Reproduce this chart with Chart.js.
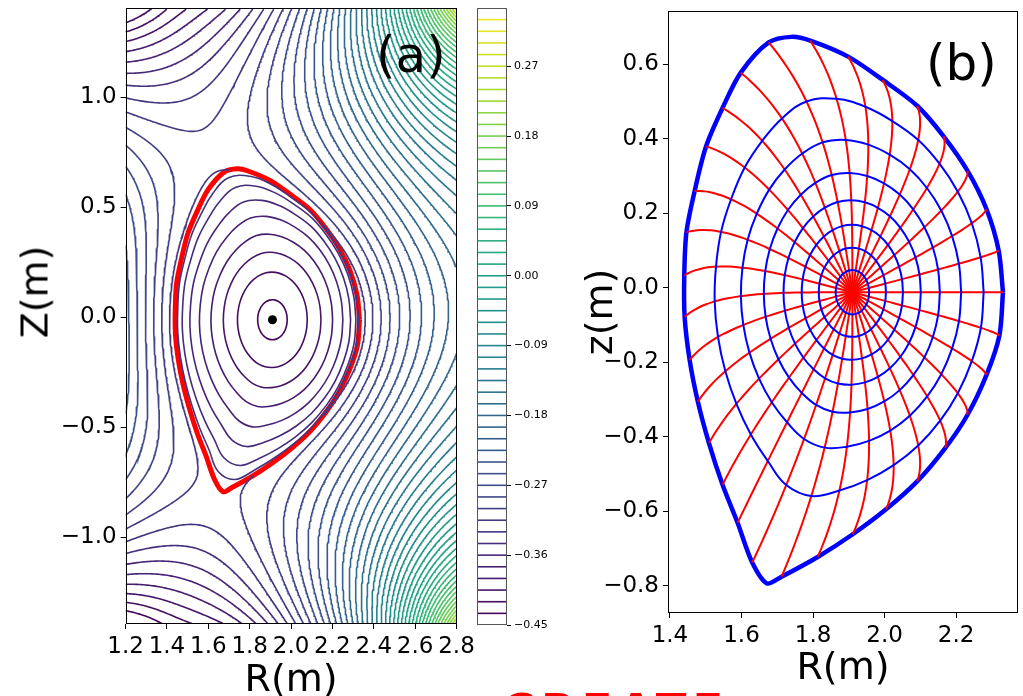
<!DOCTYPE html>
<html><head><meta charset="utf-8">
<script src="https://cdn.jsdelivr.net/npm/chart.js@4.4.1/dist/chart.umd.min.js"></script>
<style>
html,body{margin:0;padding:0;background:#fff;width:1023px;height:696px;overflow:hidden;}
canvas{position:absolute;left:0;top:0;}
.lab{position:absolute;font-family:"DejaVu Sans";color:#000;white-space:nowrap;line-height:1;}
</style></head><body>
<canvas id="ca" width="1023" height="696"></canvas>
<canvas id="cc" width="1023" height="696"></canvas>
<canvas id="cb" width="1023" height="696"></canvas>
<div class="lab" style="left:376px;top:30px;font-size:50px;">(a)</div>
<div class="lab" style="left:926px;top:38px;font-size:50px;">(b)</div>
<div class="lab" style="left:-12px;top:273px;width:93px;text-align:center;font-size:38px;transform:rotate(-90deg);">Z(m)</div>
<div class="lab" style="left:502px;top:688px;font-size:45px;font-weight:bold;letter-spacing:6px;color:#f00;">CREATE</div>
<script>
// ---------------- values ----------------
const magAxis = [1.91, -0.012];                 // magnetic axis (R, Z)
// last closed flux surface / separatrix (counter-clockwise from outer midplane)
const sepR = [2.331,2.319,2.285,2.232,2.165,2.091,1.994,1.898,1.792,1.740,1.676,1.598,1.547,1.501,1.469,1.446,1.440,1.441,1.455,1.478,1.509,1.547,1.589,1.630,1.671,1.712,1.813,1.911,2.004,2.091,2.170,2.232,2.285,2.321,2.331];
const sepZ = [-0.012,0.100,0.211,0.314,0.407,0.489,0.559,0.621,0.664,0.674,0.659,0.578,0.483,0.380,0.260,0.149,0.033,-0.078,-0.194,-0.306,-0.417,-0.529,-0.631,-0.738,-0.794,-0.776,-0.723,-0.662,-0.595,-0.520,-0.430,-0.341,-0.234,-0.128,-0.012];
// ends of the 32 red coordinate lines on the boundary (panel b)
const gridEndR = [2.331,2.319,2.285,2.232,2.165,2.091,1.994,1.898,1.792,1.676,1.598,1.547,1.501,1.469,1.446,1.440,1.441,1.455,1.478,1.509,1.547,1.589,1.630,1.712,1.813,1.911,2.004,2.091,2.170,2.232,2.285,2.321];
const gridEndZ = [-0.012,0.100,0.211,0.314,0.407,0.489,0.559,0.621,0.664,0.659,0.578,0.483,0.380,0.260,0.149,0.033,-0.078,-0.194,-0.306,-0.417,-0.529,-0.631,-0.738,-0.776,-0.723,-0.662,-0.595,-0.520,-0.430,-0.341,-0.234,-0.128];
const innerShape = [0.55, 0.70];                 // half width / half height of innermost surfaces (normalised)
const rhoSurfB = [0.085,0.171,0.259,0.354,0.46,0.59,0.755];   // blue flux surfaces (panel b)
const rhoGridLine = [0,0.04,0.08,0.12,0.17,0.22,0.27,0.32,0.37,0.42,0.47,0.52,0.57,0.62,0.67,0.72,0.77,0.82,0.86,0.9,0.93,0.96,0.98,1.0];
const rhoClosedA = [0.13,0.31,0.44,0.56,0.68,0.79,0.89,0.96]; // closed contours in panel a
const psiSep = -0.32;
// contour levels (panel a / colour bar)
const levels = [-0.435,-0.42,-0.405,-0.39,-0.375,-0.36,-0.345,-0.33,-0.315,-0.3,-0.285,-0.27,-0.255,-0.24,-0.225,-0.21,-0.195,-0.18,-0.165,-0.15,-0.135,-0.12,-0.105,-0.09,-0.075,-0.06,-0.045,-0.03,-0.015,0,0.015,0.03,0.045,0.06,0.075,0.09,0.105,0.12,0.135,0.15,0.165,0.18,0.195,0.21,0.225,0.24,0.255,0.27,0.285,0.3,0.315,0.33];
const cbarRange = [-0.45, 0.345];
const cbarTicks = [-0.45,-0.36,-0.27,-0.18,-0.09,0,0.09,0.18,0.27];
const xTicksA = [1.2,1.4,1.6,1.8,2.0,2.2,2.4,2.6,2.8];
const yTicksA = [-1.0,-0.5,0.0,0.5,1.0];
const xTicksB = [1.4,1.6,1.8,2.0,2.2];
const yTicksB = [-0.8,-0.6,-0.4,-0.2,0.0,0.2,0.4,0.6];
// psi samples read outside the separatrix (colour / contour counting)
const sampleR = [2.8,2.8,2.8,2.8,2.8,2.8,2.8,2.8,2.8, 1.2,1.4,1.5,1.58,1.64,1.8,2.0,2.2,2.37,2.55,2.69, 1.2,1.2,1.2,1.2,1.2,1.2,1.2,1.2,1.2, 1.2,1.4,1.5,1.6,1.75,1.87,2.0,2.2,2.4,2.6,2.7];
const sampleZ = [1.4,1.2,0.9,0.5,0,-0.5,-0.9,-1.2,-1.4, 1.4,1.4,1.4,1.4,1.4,1.4,1.4,1.4,1.4,1.4,1.4, 1.2,1.0,0.85,0.4,0,-0.5,-0.8,-0.97,-1.2, -1.4,-1.4,-1.4,-1.4,-1.4,-1.4,-1.4,-1.4,-1.4,-1.4,-1.4];
const samplePsi = [0.33,0.12,0.0,-0.09,-0.14,-0.09,0.0,0.12,0.33, -0.44,-0.47,-0.42,-0.35,-0.31,-0.26,-0.21,-0.15,-0.09,0.0,0.10, -0.39,-0.315,-0.27,-0.26,-0.26,-0.275,-0.30,-0.33,-0.39, -0.44,-0.47,-0.43,-0.38,-0.33,-0.30,-0.26,-0.20,-0.12,0.0,0.10];
const xPoint = [1.671, -0.794];
const upperSaddle = [1.657, 0.805, -0.307];
const outerGrad = [2.36, -0.01, 0.375];
const srcR = [1.91, 1.42, 1.42, 2.95, 2.95];
const srcZ = [-0.012, 1.62, -1.62, 1.58, -1.58];

// ---------------- helpers ----------------
const VIR = ['#440154','#482475','#414487','#355f8d','#2a788e','#21918c','#22a884','#44bf70','#7ad151','#bddf26','#fde725'];
function hex2rgb(h){return [parseInt(h.slice(1,3),16),parseInt(h.slice(3,5),16),parseInt(h.slice(5,7),16)];}
function viridis(t){t=Math.max(0,Math.min(1,t));const f=t*10,i=Math.min(9,Math.floor(f)),u=f-i;const a=hex2rgb(VIR[i]),b=hex2rgb(VIR[i+1]);return 'rgb('+a.map((v,k)=>Math.round(v+(b[k]-v)*u)).join(',')+')';}
const levColor = L => viridis((L-cbarRange[0])/(cbarRange[1]-cbarRange[0]));

function basisRow(R,Z){const x=R-1.9,y=Z;const r=[1,x,y,x*x-y*y,2*x*y,x*x*x-3*x*y*y,3*x*x*y-y*y*y];for(let k=0;k<srcR.length;k++)r.push(0.5*Math.log((R-srcR[k])**2+(Z-srcZ[k])**2));return r;}
function gradRow(R,Z,d){const h=1e-4;const a=d===0?basisRow(R+h,Z):basisRow(R,Z+h);const b=d===0?basisRow(R-h,Z):basisRow(R,Z-h);return a.map((v,i)=>(v-b[i])/(2*h));}
function fitField(){
  const rows=[];
  for(let i=0;i<sepR.length;i++)rows.push([basisRow(sepR[i],sepZ[i]),psiSep,10]);
  rows.push([basisRow(xPoint[0],xPoint[1]),psiSep,10]);
  rows.push([gradRow(xPoint[0],xPoint[1],0),0,4]);rows.push([gradRow(xPoint[0],xPoint[1],1),0,4]);
  rows.push([basisRow(upperSaddle[0],upperSaddle[1]),upperSaddle[2],5]);
  rows.push([gradRow(upperSaddle[0],upperSaddle[1],0),0,3]);rows.push([gradRow(upperSaddle[0],upperSaddle[1],1),0,3]);
  rows.push([gradRow(outerGrad[0],outerGrad[1],0),outerGrad[2],3]);
  for(let i=0;i<sampleR.length;i++)rows.push([basisRow(sampleR[i],sampleZ[i]),samplePsi[i],2]);
  const n=rows[0][0].length;const M=[];const v=new Array(n).fill(0);
  for(let i=0;i<n;i++)M.push(new Array(n).fill(0));
  for(const [r,b,w] of rows){for(let i=0;i<n;i++){v[i]+=w*w*r[i]*b;for(let j=0;j<n;j++)M[i][j]+=w*w*r[i]*r[j];}}
  for(let i=0;i<n;i++)M[i][i]+=1e-7;
  for(let c=0;c<n;c++){let p=c;for(let r=c+1;r<n;r++)if(Math.abs(M[r][c])>Math.abs(M[p][c]))p=r;[M[c],M[p]]=[M[p],M[c]];[v[c],v[p]]=[v[p],v[c]];
    for(let r=0;r<n;r++){if(r===c)continue;const f=M[r][c]/M[c][c];for(let k=c;k<n;k++)M[r][k]-=f*M[c][k];v[r]-=f*v[c];}}
  return v.map((x,i)=>x/M[i][i]);
}
const coef=fitField();
const psiAt=(R,Z)=>basisRow(R,Z).reduce((s,b,i)=>s+b*coef[i],0);

function inside(px,py,xs,ys){let c=false;for(let i=0,j=xs.length-1;i<xs.length;j=i++){if(((ys[i]>py)!==(ys[j]>py))&&(px<(xs[j]-xs[i])*(py-ys[i])/(ys[j]-ys[i])+xs[i]))c=!c;}return c;}

// marching squares on the fitted field
const x0=1.2,dx=0.008,nx=201,y0=-1.4,dy=0.008,ny=351;
const F=new Float64Array(nx*ny);
for(let j=0;j<ny;j++)for(let i=0;i<nx;i++)F[j*nx+i]=psiAt(x0+i*dx,y0+j*dy);
const CASES={1:[[3,0]],2:[[0,1]],3:[[3,1]],4:[[1,2]],6:[[0,2]],7:[[3,2]],8:[[2,3]],9:[[0,2]],11:[[1,2]],12:[[1,3]],13:[[0,1]],14:[[0,3]]};
function contour(L){
  const segs=[];
  for(let j=0;j<ny-1;j++)for(let i=0;i<nx-1;i++){
    const a=F[j*nx+i],b=F[j*nx+i+1],c=F[(j+1)*nx+i+1],d=F[(j+1)*nx+i];
    const cs=(a>L?1:0)|(b>L?2:0)|(c>L?4:0)|(d>L?8:0);
    if(cs===0||cs===15)continue;
    const E=[(j*nx+i)*2,(j*nx+i+1)*2+1,((j+1)*nx+i)*2,(j*nx+i)*2+1];
    let pairs=CASES[cs];
    if(cs===5||cs===10){const m=(a+b+c+d)/4;const hi=m>L;
      if(cs===5)pairs=hi?[[3,2],[0,1]]:[[3,0],[1,2]];else pairs=hi?[[0,3],[1,2]]:[[0,1],[2,3]];}
    for(const p of pairs)segs.push([E[p[0]],E[p[1]]]);
  }
  const adj=new Map();
  segs.forEach((s,k)=>{for(const e of s){if(!adj.has(e))adj.set(e,[]);adj.get(e).push(k);}});
  const used=new Uint8Array(segs.length);const lines=[];
  const step=(cur)=>{const l=adj.get(cur);for(const k of l)if(!used[k]){used[k]=1;const s=segs[k];return s[0]===cur?s[1]:s[0];}return null;};
  for(let s0=0;s0<segs.length;s0++){
    if(used[s0])continue;used[s0]=1;
    const ch=[segs[s0][0],segs[s0][1]];
    let cur=ch[1],nx2;while((nx2=step(cur))!==null){ch.push(nx2);cur=nx2;}
    const back=[];cur=ch[0];while((nx2=step(cur))!==null){back.push(nx2);cur=nx2;}
    lines.push(back.reverse().concat(ch));
  }
  const pt=e=>{const cell=e>>1,t=e&1,i=cell%nx,j=Math.floor(cell/nx);
    if(t===0){const a=F[j*nx+i],b=F[j*nx+i+1];const u=(L-a)/(b-a);return {x:x0+(i+u)*dx,y:y0+j*dy};}
    const a=F[j*nx+i],b=F[(j+1)*nx+i];const u=(L-a)/(b-a);return {x:x0+i*dx,y:y0+(j+u)*dy};};
  const out=[];
  for(const ln of lines){let cur=[];for(const e of ln){const p=pt(e);if(inside(p.x,p.y,sepR,sepZ)){if(cur.length>1)out.push(cur);cur=[];}else cur.push(p);}if(cur.length>1)out.push(cur);}
  return out;
}

function fluxPoint(rho,j){
  const N=gridEndR.length,th=2*Math.PI*j/N,w=Math.pow(rho,2.5);
  const ex=innerShape[0]*Math.cos(th),ez=innerShape[1]*Math.sin(th);
  const bx=gridEndR[j]-magAxis[0],bz=gridEndZ[j]-magAxis[1];
  return {x:magAxis[0]+rho*((1-w)*ex+w*bx),y:magAxis[1]+rho*((1-w)*ez+w*bz)};
}
function surface(rho){const p=[];for(let j=0;j<gridEndR.length;j++)p.push(fluxPoint(rho,j));p.push(p[0]);return p;}

const ln=(data,color,width,tension)=>({data,borderColor:color,borderWidth:width,showLine:true,pointRadius:0,tension:tension||0,fill:false});
const sepPts=sepR.map((r,i)=>({x:r,y:sepZ[i]}));

// ---------------- panel a ----------------
const dsA=[];
levels.forEach(L=>{for(const c of contour(L))dsA.push(ln(c,levColor(L),1.6,0));});
rhoClosedA.forEach((r,k)=>dsA.push(ln(surface(r),levColor(levels[k]),1.6,0.4)));
dsA.push(ln(sepPts,'#ff0000',5,0.3));
dsA.push({data:[{x:magAxis[0],y:magAxis[1]}],pointRadius:4.5,pointBackgroundColor:'#000',pointBorderWidth:0,showLine:false});

const FONT="'DejaVu Sans', sans-serif";
const frame={id:'frame',afterDatasetsDraw(ch,a,o){const c=ch.ctx,r=ch.chartArea;c.save();c.strokeStyle=o.color||'#000';c.lineWidth=1;
  const L=Math.round(r.left)+0.5,T=Math.round(r.top)+0.5,R=Math.round(r.right)-0.5,B=Math.round(r.bottom)-0.5;c.strokeRect(L,T,R-L,B-T);c.restore();}};
const fixW=w=>s=>{s.width=w;s.paddingTop=0;s.paddingBottom=0;};
const fixH=h=>s=>{s.height=h;s.paddingLeft=0;s.paddingRight=0;};
const setT=v=>s=>{s.ticks=v.map(x=>({value:x}));};
const f1=v=>(v<-1e-9?'\u2212':'')+Math.abs(v).toFixed(1);
const f2=v=>(v<-1e-9?'\u2212':'')+Math.abs(v).toFixed(2);
function axisOpts(min,max,ticks,fmt,fontSize,title,titlePad,fit){
  return {type:'linear',min,max,afterBuildTicks:setT(ticks),afterFit:fit,
    ticks:{callback:fmt,font:{family:FONT,size:fontSize},color:'#000',padding:4,autoSkip:false,maxRotation:0,minRotation:0},
    grid:{display:true,drawOnChartArea:false,drawTicks:true,tickLength:5,tickColor:'#000',tickWidth:1},
    border:{display:false},
    title:{display:!!title,text:title,color:'#000',font:{family:FONT,size:38,lineHeight:1},padding:titlePad}};
}
const base={responsive:false,animation:false,events:[],devicePixelRatio:1,
  plugins:{legend:{display:false},tooltip:{enabled:false}}};

new Chart(document.getElementById('ca'),{type:'scatter',data:{datasets:dsA},plugins:[frame],
  options:Object.assign({},base,{layout:{padding:{left:0,top:8,right:1023-456.5,bottom:0}},
    scales:{x:axisOpts(1.2,2.8,xTicksA,f1,23,'R(m)',{top:0,bottom:-4},fixH(72)),
            y:axisOpts(-1.395,1.405,yTicksA,f1,23,'',{top:0,bottom:0},fixW(125.6))}})});

// ---------------- colour bar ----------------
const dsC=levels.map(L=>ln([{x:0,y:L},{x:1,y:L}],levColor(L),1.6,0));
new Chart(document.getElementById('cc'),{type:'scatter',data:{datasets:dsC},plugins:[frame],
  options:Object.assign({},base,{layout:{padding:{left:477,top:8,right:466,bottom:71}},
    plugins:{legend:{display:false},tooltip:{enabled:false},frame:{color:'#555'}},
    scales:{x:{type:'linear',display:false,min:0,max:1},
      y:{type:'linear',position:'right',min:cbarRange[0],max:cbarRange[1],afterBuildTicks:setT(cbarTicks),afterFit:fixW(50),
        ticks:{callback:f2,font:{family:FONT,size:11},color:'#000',padding:3},
        grid:{display:true,drawOnChartArea:false,drawTicks:true,tickLength:4,tickColor:'#000'},border:{display:false}}}})});

// ---------------- panel b ----------------
const dsB=[];
rhoSurfB.forEach(r=>dsB.push(ln(surface(r),'#0000ff',2,0.4)));
for(let j=0;j<gridEndR.length;j++)dsB.push(ln(rhoGridLine.map(r=>fluxPoint(r,j)),'#ff0000',2,0.3));
dsB.push(ln(sepPts,'#0000ff',4.5,0.3));
dsB.push({data:[{x:magAxis[0],y:magAxis[1]}],pointRadius:5,pointBackgroundColor:'#000',pointBorderWidth:0,showLine:false});
new Chart(document.getElementById('cb'),{type:'scatter',data:{datasets:dsB},plugins:[frame],
  options:Object.assign({},base,{layout:{padding:{left:580,top:11,right:1,bottom:0}},
    scales:{x:axisOpts(1.3945,2.373,xTicksB,f1,23,'R(m)',{top:0,bottom:8},fixH(83)),
            y:axisOpts(-0.8735,0.7435,yTicksB,f1,23,'z(m)',{top:3,bottom:0},fixW(88))}})});
</script></body></html>
